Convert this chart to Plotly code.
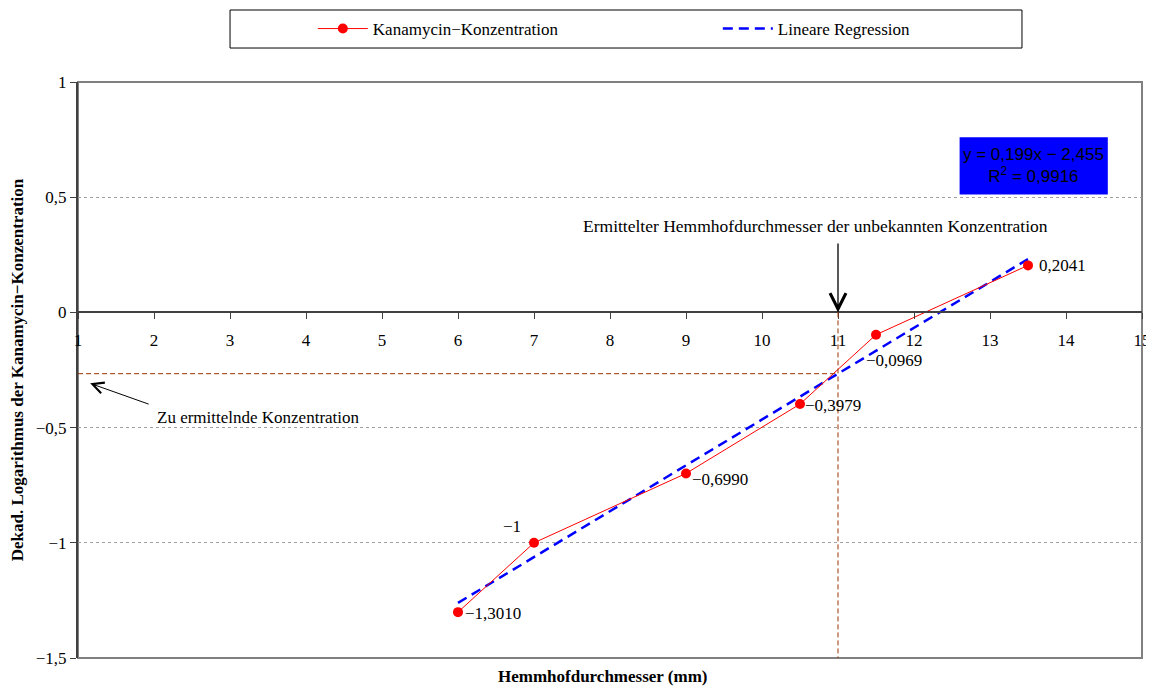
import plotly.graph_objects as go

# ---- data ----
diameters = [6, 7, 9, 10.5, 11.5, 13.5]
log_conc = [-1.3010, -1.0, -0.6990, -0.3979, -0.0969, 0.2041]
point_labels = ["−1,3010", "−1", "−0,6990", "−0,3979", "−0,0969", "0,2041"]

reg_slope = 0.199
reg_intercept = -2.455
reg_x = [6, 13.5]
r_squared = 0.9916
unknown_diameter = 11

x_ticks = list(range(1, 16))
y_ticks = [1, 0.5, 0, -0.5, -1, -1.5]
y_ticktext = ["1", "0,5", "0", "−0,5", "−1", "−1,5"]

# label placement (style only): anchor, x-shift px, y-shift px (up positive)
label_style = [("left", 5, -1), ("right", -11, 16), ("left", 4, -6),
               ("left", 3, -1), ("left", -12, -26), ("left", 9, 0)]

reg_y = [reg_slope * x + reg_intercept for x in reg_x]
unknown_log = reg_slope * unknown_diameter + reg_intercept

SERIF = "Liberation Serif"
SANS = "Liberation Sans"
FS = 17

fig = go.Figure()
fig.add_trace(go.Scatter(
    x=reg_x, y=reg_y, mode="lines", name="Lineare Regression",
    line=dict(color="#0000FF", width=2.5, dash="10px,6px"), legendrank=2,
))
fig.add_trace(go.Scatter(
    x=diameters, y=log_conc, mode="lines+markers", name="Kanamycin−Konzentration",
    line=dict(color="#FF0000", width=1), marker=dict(color="#FF0000", size=10),
    legendrank=1,
))

eq_text = (f"y = {reg_slope:.3f}x − {abs(reg_intercept):.3f}".replace(".", ",")
           + "<br>R<sup>2</sup> = " + f"{r_squared:.4f}".replace(".", ","))

shapes = [
    dict(type="rect", xref="paper", yref="paper", x0=0, x1=1, y0=0, y1=1,
         line=dict(color="#808080", width=2), layer="below"),
    dict(type="line", xref="x", yref="y", x0=x_ticks[0], x1=unknown_diameter,
         y0=unknown_log, y1=unknown_log, line=dict(color="#993300", width=1, dash="5px,3px")),
    dict(type="line", xref="x", yref="y", x0=unknown_diameter, x1=unknown_diameter,
         y0=0, y1=y_ticks[-1], line=dict(color="#993300", width=1, dash="5px,3px")),
    dict(type="rect", xref="x", yref="y", x0=12.6, x1=14.55, y0=0.512, y1=0.76,
         fillcolor="#0000FF", line=dict(width=0), layer="above"),
    dict(type="rect", xref="paper", yref="paper", x0=0.1429, x1=0.8872, y0=1.059, y1=1.125,
         line=dict(color="black", width=1), fillcolor="white", layer="below"),
]

annotations = [
    dict(x=13.575, y=0.636, xref="x", yref="y", text=eq_text, showarrow=False,
         font=dict(family=SANS, size=FS, color="black")),
    dict(x=10.71, y=0.373, xref="x", yref="y",
         text="Ermittelter Hemmhofdurchmesser der unbekannten Konzentration",
         showarrow=False, font=dict(family=SERIF, size=17.5, color="black")),
    dict(x=unknown_diameter, y=0, xref="x", yref="y", text=" ", showarrow=True,
         ax=0, ay=-80, arrowhead=5, arrowsize=2.4, arrowwidth=1.3, arrowcolor="black"),
    dict(x=2.01, y=-0.456, xref="x", yref="y", text="Zu ermittelnde Konzentration",
         xanchor="left", showarrow=False, font=dict(family=SERIF, size=FS, color="black")),
    dict(x=1.16, y=-0.308, xref="x", yref="y", text=" ", showarrow=True,
         ax=62, ay=22, arrowhead=5, arrowsize=2.2, arrowwidth=1, arrowcolor="black"),
    dict(x=0.4925, y=-0.052, xref="paper", yref="paper", text="<b>Hemmhofdurchmesser (mm)</b>",
         showarrow=False, font=dict(family=SERIF, size=FS, color="black")),
]
for xv, yv, lab, (anc, dx, dy) in zip(diameters, log_conc, point_labels, label_style):
    annotations.append(dict(x=xv, y=yv, xref="x", yref="y", text=lab, showarrow=False,
                            xanchor=anc, yanchor="middle", xshift=dx, yshift=dy,
                            font=dict(family=SERIF, size=FS, color="black")))

# page body has an 8px margin, so the figure is sized/offset to compensate
fig.update_layout(
    width=1146, height=684,
    margin=dict(l=70, r=12, t=74, b=34, autoexpand=False),
    paper_bgcolor="white", plot_bgcolor="white",
    font=dict(family=SERIF, size=FS, color="black"),
    shapes=shapes, annotations=annotations,
    legend=dict(orientation="h", x=0.2207, y=1.092, xanchor="left", yanchor="middle",
                bgcolor="rgba(0,0,0,0)", borderwidth=0, itemwidth=50,
                entrywidth=340, entrywidthmode="pixels",
                font=dict(family=SERIF, size=FS, color="black")),
    xaxis=dict(range=[1, 15], anchor="free", position=0.6, tickvals=x_ticks,
               ticks="outside", ticklen=6, tickwidth=1, tickcolor="#404040",
               showline=True, linecolor="#404040", linewidth=2, automargin=False,
               showgrid=False, zeroline=False, ticklabelstandoff=6,
               tickfont=dict(family=SERIF, size=FS, color="black")),
    yaxis=dict(range=[-1.5, 1], tickvals=y_ticks, ticktext=y_ticktext,
               ticks="outside", ticklen=6, tickwidth=1, tickcolor="#404040",
               showline=True, linecolor="#404040", linewidth=2, automargin=False,
               showgrid=True, gridcolor="#A0A0A0", griddash="dot", gridwidth=1,
               zeroline=False,
               tickfont=dict(family=SERIF, size=FS, color="black"),
               title=dict(text="<b>Dekad. Logarithmus der Kanamycin−Konzentration</b>",
                          standoff=14, font=dict(family=SERIF, size=FS, color="black"))),
)

fig.write_html("out.html")
